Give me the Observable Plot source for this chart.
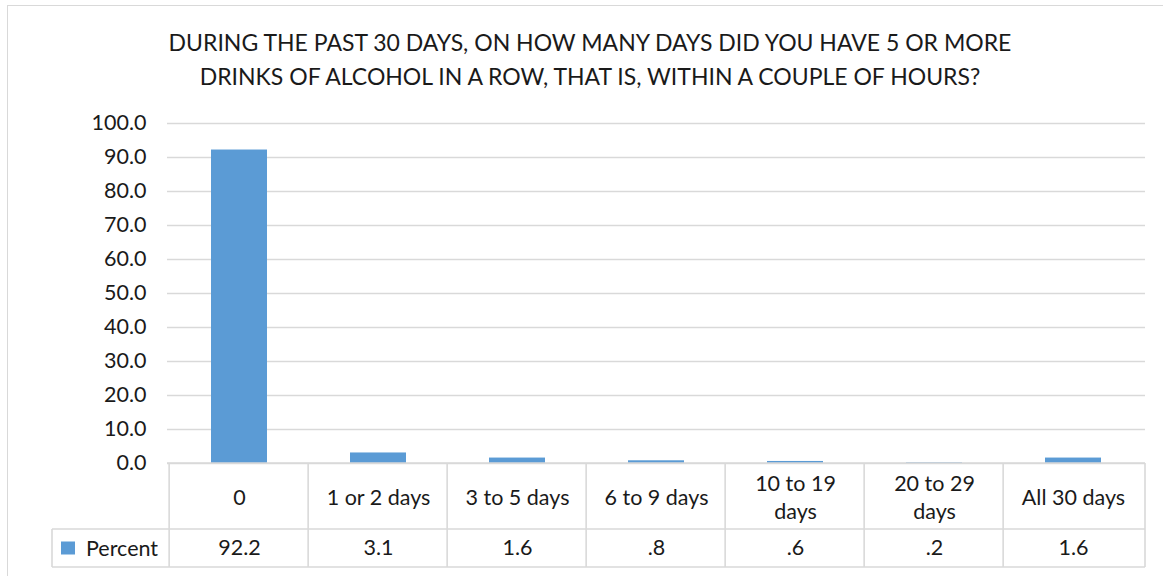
<!DOCTYPE html>
<html>
<head>
<meta charset="utf-8">
<script src="https://cdn.jsdelivr.net/npm/d3@7"></script>
<script src="https://cdn.jsdelivr.net/npm/@observablehq/plot@0.6"></script>
<style>
  html, body { margin: 0; padding: 0; background: #fff; }
  #wrap { position: relative; width: 1163px; height: 576px; overflow: hidden; background: #fff; font-family: Lato, "Open Sans", sans-serif; }
  #frame { position: absolute; left: 7px; top: 5px; width: 1180px; height: 600px; border: 1px solid #d9d9d9; box-sizing: border-box; }
  #title { position: absolute; left: 0; top: 25px; width: 1180px; text-align: center; font-size: 23px; line-height: 34px; color: #1a1a1a; }
  #chart { position: absolute; left: 0; top: 105px; }
</style>
</head>
<body>
<div id="wrap">
  <div id="frame"></div>
  <div id="title"></div>
  <div id="chart"></div>
</div>
<script>
const titleLines = [
  "DURING THE PAST 30 DAYS, ON HOW MANY DAYS DID YOU HAVE 5 OR MORE",
  "DRINKS OF ALCOHOL IN A ROW, THAT IS, WITHIN A COUPLE OF HOURS?"
];
const categories = ["0", "1 or 2 days", "3 to 5 days", "6 to 9 days", "10 to 19\ndays", "20 to 29\ndays", "All 30 days"];
const percents = [92.2, 3.1, 1.6, 0.8, 0.6, 0.2, 1.6];
const yTicks = [0, 10, 20, 30, 40, 50, 60, 70, 80, 90, 100];
const seriesName = "Percent";

const barColor = "#5b9bd5";
const gridColor = "#d9d9d9";
const textColor = "#1a1a1a";
const font = "Lato, 'Open Sans', sans-serif";

document.getElementById("title").innerHTML = titleLines.join("<br>");

const data = categories.map((c, i) => ({category: c, percent: percents[i]}));
const fmtVal = v => d3.format(".1f")(v).replace(/^0\./, ".");

const headerRow = 66, valueRow = 38;
const tableFont = 21.5;

const plot = Plot.plot({
  width: 1163,
  height: 471,
  marginLeft: 167,
  marginRight: 18,
  marginTop: 18,
  marginBottom: 113,
  style: {fontFamily: font, color: textColor, background: "transparent"},
  x: {type: "band", domain: categories, paddingInner: 0.6, paddingOuter: 0.3, axis: null},
  y: {domain: [0, 100]},
  marks: [
    Plot.gridY(yTicks, {stroke: gridColor, strokeOpacity: 1, strokeWidth: 1.3}),
    Plot.axisY(yTicks, {tickSize: 0, tickPadding: 21, tickFormat: d3.format(".1f"), fontSize: 21.5, label: null, fill: textColor}),
    Plot.barY(data, {x: "category", y: "percent", fill: barColor}),
    Plot.text(data, {x: "category", text: "category", frameAnchor: "bottom", lineAnchor: "middle", dy: headerRow / 2, fontSize: tableFont, lineHeight: 1.3, fill: textColor}),
    Plot.text(data, {x: "category", text: d => fmtVal(d.percent), frameAnchor: "bottom", lineAnchor: "middle", dy: headerRow + valueRow / 2, fontSize: tableFont, fill: textColor})
  ]
});
document.getElementById("chart").appendChild(plot);

// Data table grid drawn from Plot's own scales
const xs = plot.scale("x");
const ys = plot.scale("y");
const step = (xs.range[1] - xs.range[0]) / categories.length;
const bw = xs.bandwidth;
const y0 = ys.apply(0);
const xLeft = xs.range[0], xRight = xs.range[1];
const legendLeft = 52;
const svg = d3.select(plot);
const g = svg.append("g").attr("stroke", gridColor).attr("stroke-width", 1.6).attr("fill", "none");
const bounds = categories.map(c => xs.apply(c) + bw / 2 - step / 2).concat([xRight]);
g.append("line").attr("x1", xLeft).attr("x2", xRight).attr("y1", y0).attr("y2", y0);
g.append("line").attr("x1", legendLeft).attr("x2", xRight).attr("y1", y0 + headerRow).attr("y2", y0 + headerRow);
g.append("line").attr("x1", legendLeft).attr("x2", xRight).attr("y1", y0 + headerRow + valueRow).attr("y2", y0 + headerRow + valueRow);
bounds.forEach(b => g.append("line").attr("x1", b).attr("x2", b).attr("y1", y0).attr("y2", y0 + headerRow + valueRow));
g.append("line").attr("x1", legendLeft).attr("x2", legendLeft).attr("y1", y0 + headerRow).attr("y2", y0 + headerRow + valueRow);
// legend key
const ly = y0 + headerRow + valueRow / 2;
svg.append("rect").attr("x", 61).attr("y", ly - 6.5).attr("width", 14).attr("height", 13).attr("fill", barColor);
svg.append("text").attr("x", 86).attr("y", ly).attr("dy", "0.35em").attr("text-anchor", "start")
  .attr("font-size", tableFont).attr("fill", textColor).attr("font-family", font).text(seriesName);
</script>
</body>
</html>
